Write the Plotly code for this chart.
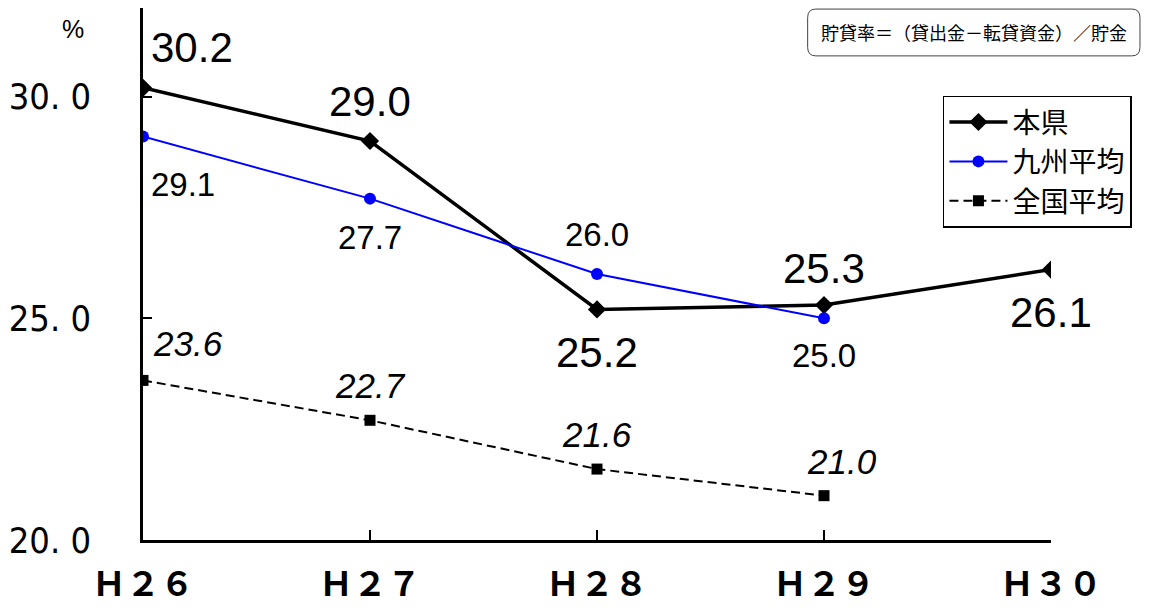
import plotly.graph_objects as go

years = ['Ｈ２６', 'Ｈ２７', 'Ｈ２８', 'Ｈ２９', 'Ｈ３０']
honken = [30.2, 29.0, 25.2, 25.3, 26.1]
kyushu = [29.1, 27.7, 26.0, 25.0, None]
zenkoku = [23.6, 22.7, 21.6, 21.0, None]
y_ticks = [20, 25, 30]
y_labels = ['20. 0', '25. 0', '30. 0']

x = list(range(len(years)))
num_font = 'Liberation Sans, Arial, sans-serif'
narrow_font = 'DejaVu Sans Condensed, sans-serif'
jp_font = 'Noto Sans CJK JP, sans-serif'

fig = go.Figure()
fig.add_trace(go.Scatter(x=x, y=honken, name='本県', mode='lines+markers',
                         line=dict(color='black', width=3.5),
                         marker=dict(symbol='diamond', size=14, color='black')))
fig.add_trace(go.Scatter(x=x, y=kyushu, name='九州平均', mode='lines+markers',
                         line=dict(color='#0000ff', width=2),
                         marker=dict(symbol='circle', size=12, color='#0000ff')))
fig.add_trace(go.Scatter(x=x, y=zenkoku, name='全国平均', mode='lines+markers',
                         line=dict(color='black', width=2, dash='9px,5px'),
                         marker=dict(symbol='square', size=11, color='black')))

# data labels (offsets in pixels)
h_off = [(49, 40), (0, 40), (0, -43), (0, 37), (0, -43)]
k_off = [(40, -48), (0, -39), (0, 40), (0, -37)]
z_off = [(45, 37), (0, 35), (0, 35), (18, 34)]
for i, v in enumerate(honken):
    fig.add_annotation(x=x[i], y=v, text=f'{v:.1f}', showarrow=False,
                       xshift=h_off[i][0], yshift=h_off[i][1],
                       font=dict(family=num_font, size=42, color='black'))
for i, v in enumerate(kyushu):
    if v is None:
        continue
    fig.add_annotation(x=x[i], y=v, text=f'{v:.1f}', showarrow=False,
                       xshift=k_off[i][0], yshift=k_off[i][1],
                       font=dict(family=num_font, size=33, color='black'))
for i, v in enumerate(zenkoku):
    if v is None:
        continue
    fig.add_annotation(x=x[i], y=v, text=f'<i>{v:.1f}</i>', showarrow=False,
                       xshift=z_off[i][0], yshift=z_off[i][1],
                       font=dict(family=num_font, size=35, color='black'))

fig.add_annotation(xref='paper', yref='paper', x=-0.077, y=0.961, text='%',
                   showarrow=False, xanchor='center', yanchor='middle',
                   font=dict(family=num_font, size=25, color='black'))

# formula box
x0, x1, y0, y1 = 0.732, 1.098, 0.910, 0.998
rx, ry = 0.009, 0.016
fig.add_shape(type='path', xref='paper', yref='paper', layer='above',
              path=(f'M {x0+rx},{y1} L {x1-rx},{y1} Q {x1},{y1} {x1},{y1-ry} '
                    f'L {x1},{y0+ry} Q {x1},{y0} {x1-rx},{y0} L {x0+rx},{y0} '
                    f'Q {x0},{y0} {x0},{y0+ry} L {x0},{y1-ry} Q {x0},{y1} {x0+rx},{y1} Z'),
              line=dict(color='#444', width=1), fillcolor='white')
fig.add_annotation(xref='paper', yref='paper', x=(x0 + x1) / 2, y=(y0 + y1) / 2,
                   text='貯貸率＝（貸出金－転貸資金）／貯金', showarrow=False,
                   xanchor='center', yanchor='middle',
                   font=dict(family=jp_font, size=18, color='black'))

fig.update_layout(
    width=1148, height=604,
    margin=dict(l=135, r=105, t=0, b=72),
    plot_bgcolor='white', paper_bgcolor='white',
    showlegend=True,
    legend=dict(x=0.881, y=0.835, xanchor='left', yanchor='top',
                bordercolor='black', borderwidth=1.5, bgcolor='white',
                font=dict(family=jp_font, size=28, color='black'),
                itemwidth=58, tracegroupgap=0),
    xaxis=dict(range=[0, 4], tickvals=x, ticktext=years, showgrid=False,
               zeroline=False, showline=True, linecolor='black', linewidth=3,
               ticks='inside', ticklen=10, tickwidth=2, tickcolor='black',
               ticklabelstandoff=12, automargin=False,
               tickfont=dict(family=jp_font, size=34, color='black', weight='bold')),
    yaxis=dict(range=[20, 32], tickvals=y_ticks, ticktext=y_labels, showgrid=False,
               zeroline=False, showline=True, linecolor='black', linewidth=2.5,
               ticks='inside', ticklen=9, tickwidth=2, tickcolor='black',
               ticklabelstandoff=42, automargin=False,
               tickfont=dict(family=narrow_font, size=36, color='black')),
)

fig.write_html('out.html')
